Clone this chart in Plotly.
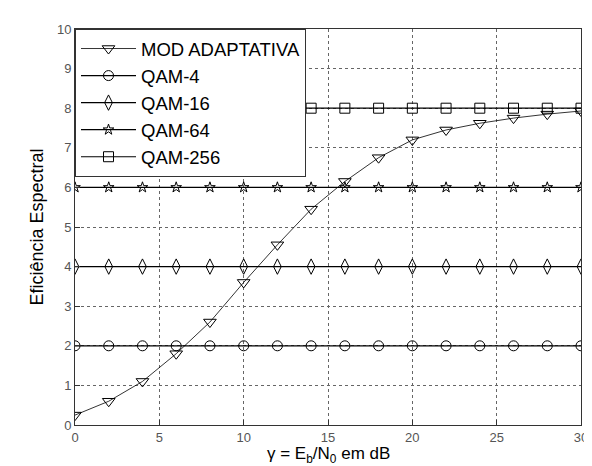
import plotly.graph_objects as go

x_db = [0, 2, 4, 6, 8, 10, 12, 14, 16, 18, 20, 22, 24, 26, 28, 30]
adaptativa = [0.25, 0.6, 1.1, 1.8, 2.6, 3.6, 4.55, 5.45, 6.15, 6.75, 7.2, 7.45, 7.62, 7.75, 7.85, 7.93]
qam4 = [2] * 16
qam16 = [4] * 16
qam64 = [6] * 16
qam256 = [8] * 16

series = [
    ("MOD ADAPTATIVA", adaptativa, "triangle-down-open", 0.8, 11),
    ("QAM-4", qam4, "circle-open", 1.2, 10),
    ("QAM-16", qam16, "diamond-tall-open", 1.2, 11),
    ("QAM-64", qam64, "star-open", 1.2, 8),
    ("QAM-256", qam256, "square-open", 1.2, 10),
]

FONT = "Liberation Sans, Arial, sans-serif"

fig = go.Figure()
for name, ys, sym, lw, ms in series:
    fig.add_trace(go.Scatter(
        x=x_db, y=ys, name=name, mode="lines+markers",
        line=dict(color="black", width=lw),
        marker=dict(symbol=sym, size=ms, color="black", line=dict(width=1, color="black")),
    ))

axis_common = dict(
    showgrid=True, gridcolor="#666", griddash="dot", gridwidth=1,
    showline=True, linecolor="#333", linewidth=1, mirror=True,
    ticks="inside", ticklen=5, tickcolor="#333",
    tickfont=dict(family=FONT, size=13, color="#555"),
    zeroline=False,
)

fig.update_layout(
    width=592, height=466,
    margin=dict(l=67, r=14, t=21, b=49),
    paper_bgcolor="white", plot_bgcolor="white",
    xaxis=dict(range=[0, 30], dtick=5, **axis_common),
    yaxis=dict(range=[0, 10], dtick=1,
               title=dict(text="Eficiência Espectral",
                          font=dict(family=FONT, size=18, color="black"), standoff=8),
               **axis_common),
    legend=dict(x=0, y=1, xanchor="left", yanchor="top",
                bgcolor="white", bordercolor="#333", borderwidth=1,
                font=dict(family=FONT, size=18.5, color="black"),
                itemwidth=55, tracegroupgap=0),
    showlegend=True,
    annotations=[dict(
        text="γ = E<sub>b</sub>/N<sub>0</sub> em dB",
        xref="paper", yref="paper", x=0.5, y=-0.108,
        xanchor="center", yanchor="bottom", showarrow=False,
        font=dict(family=FONT, size=17, color="black"),
    )],
)

fig.write_html("out.html")
